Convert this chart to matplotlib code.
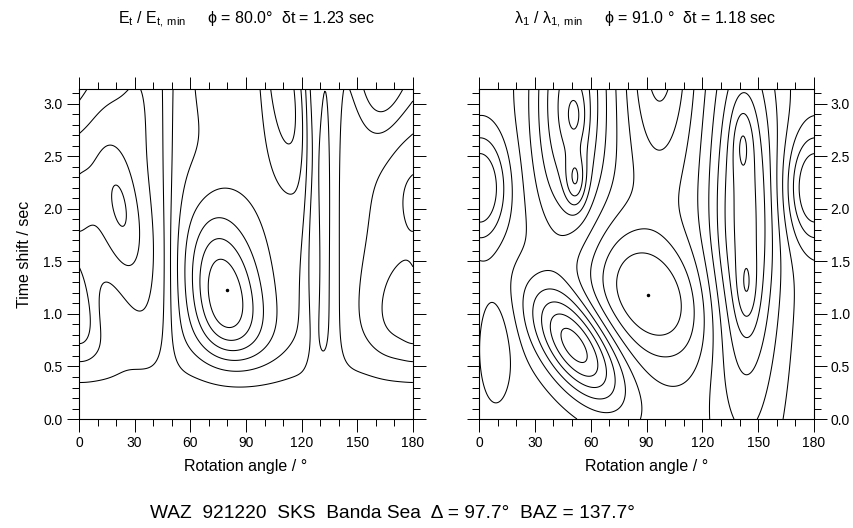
import numpy as np
import matplotlib
matplotlib.use('Agg')
import matplotlib.pyplot as plt
from matplotlib.ticker import MultipleLocator

plt.rcParams['font.family'] = ['Liberation Sans', 'DejaVu Sans']

# --- values ---
baz = 137.7
best_left = (80.0, 1.23)    # phi, dt of E_t minimum
best_right = (91.0, 1.18)   # phi, dt of lambda_1 minimum

# E_t / E_t,min : surface features (phi, dt, width phi, width dt, tilt, weight)
et_phi = [90.0, 47.7, 137.7, 72.0, 25.0, 0.0, 38.0, 168.0, 18.0, 161.0, 0.0,
          68.0, 112.0, 127.0, 2.0]
et_dt = [3.60, 1.60, 1.60, 1.23, 1.95, 2.15, 3.20, 1.00, 0.95, 3.60, 3.70,
         3.50, 3.20, 2.40, 0.90]
et_wphi = [500.0, 8.0, 8.0, 17.0, 9.0, 8.0, 10.0, 13.0, 9.0, 9.0, 10.0,
           9.0, 12.0, 3.5, 5.0]
et_wdt = [0.60, 3.00, 3.00, 0.55, 0.45, 0.30, 0.60, 0.38, 0.35, 0.50, 0.60,
          0.45, 0.80, 1.50, 0.30]
et_tilt = [0.0, 0.0, 0.0, -0.35, -0.5, 0.0, 0.0, 0.0, -0.5, 0.0, 0.0,
           0.0, -0.6, 0.0, 0.0]
et_weight = [-1.0, 1.8, 1.8, 5.4, 2.4, 0.6, 1.2, 1.0, -1.3, -5.5, -1.5,
             1.6, 3.6, -3.5, 0.6]
et_bg = 2.2
et_null = 8.0
et_levels = [1.5, 2.5, 3.5, 4.5, 5.5, 6.5, 7.5, 8.5]

# lambda_1 / lambda_1,min : highs and lows (same columns, signed height)
l1_phi = [91.0, 52.0, 48.0, 52.0, 52.0, 143.0, 141.5, 143.7, 0.0, 180.0, 9.0, 97.0]
l1_dt = [1.18, 0.69, 3.00, 2.26, 2.88, 1.90, 2.65, 1.22, 2.20, 2.20, 0.68, 3.50]
l1_wphi = [22.0, 17.0, 14.0, 4.0, 4.0, 13.0, 4.0, 4.0, 10.0, 10.0, 7.0, 12.0]
l1_wdt = [0.45, 0.38, 0.90, 0.18, 0.18, 1.30, 0.25, 0.25, 0.35, 0.35, 0.40, 0.80]
l1_tilt = [-0.3, -0.6, 0.0, 0.0, 0.0, 0.0, 0.0, 0.0, 0.0, 0.0, 0.0, 0.0]
l1_height = [-1.8, 3.0, 2.4, 1.2, 0.6, 2.5, 0.7, 0.65, -1.0, -1.0, -0.6, -1.5]
l1_base = 2.75
l1_levels = [1.5, 2.0, 2.5, 3.0, 3.5, 4.0, 4.5, 5.0, 5.5]


def bump(P, T, pc, tc, sp, st, rho):
    dp = ((P - pc + 90.0) % 180.0) - 90.0
    a = dp / sp
    b = (T - tc) / st
    q = (a * a - 2 * rho * a * b + b * b) / (1 - rho * rho)
    return np.exp(-0.5 * q)


phi = np.linspace(0, 180, 361)
dt = np.linspace(0, np.pi, 316)
P, T = np.meshgrid(phi, dt)

# transverse energy: equal to the uncorrected value along the null directions and at dt = 0
k = np.full_like(P, et_bg)
for i in range(len(et_phi)):
    k += et_weight[i] * bump(P, T, et_phi[i], et_dt[i], et_wphi[i], et_wdt[i], et_tilt[i])
s = np.abs(np.sin(np.radians(2 * (P - (baz - 90.0))))) ** 0.88
t = 1 - np.exp(-(T / 0.6) ** 2.7)
E = et_null - s * t * k

L = np.full_like(P, l1_base)
for i in range(len(l1_phi)):
    L += l1_height[i] * bump(P, T, l1_phi[i], l1_dt[i], l1_wphi[i], l1_wdt[i], l1_tilt[i])

fig = plt.figure(figsize=(8.54, 5.28), dpi=100)
ax1 = fig.add_axes([0.0925, 0.2064, 0.391, 0.625])
ax2 = fig.add_axes([0.5609, 0.2064, 0.3923, 0.625])

ax1.contour(P, T, E, levels=et_levels, colors='black', linewidths=0.75)
ax1.plot(*best_left, 'k.', ms=3)
ax2.contour(P, T, L, levels=l1_levels, colors='black', linewidths=0.75)
ax2.plot(*best_right, 'k.', ms=3)

for ax in (ax1, ax2):
    ax.set_xlim(0, 180)
    ax.set_ylim(0, np.pi)
    ax.xaxis.set_major_locator(MultipleLocator(30))
    ax.xaxis.set_minor_locator(MultipleLocator(10))
    ax.yaxis.set_major_locator(MultipleLocator(0.5))
    ax.yaxis.set_minor_locator(MultipleLocator(0.1))
    ax.yaxis.set_major_formatter(plt.FormatStrFormatter('%.1f'))
    ax.tick_params(which='both', direction='out', top=True, right=True,
                   labelsize=10, width=0.7)
    ax.tick_params(which='major', length=9, pad=3)
    ax.tick_params(which='minor', length=5)
    for sp in ax.spines.values():
        sp.set_linewidth(0.8)
    ax.set_xlabel('Rotation angle / \u00b0', fontsize=11.5, labelpad=7)

ax1.set_ylabel('Time shift / sec', fontsize=11.5, labelpad=8)
ax2.yaxis.tick_right()
ax2.tick_params(which='both', left=True)

fig.text(0.288, 0.963, r'$\mathregular{E_t}$ / $\mathregular{E_{t,\,min}}$' +
         '     \u03d5 = 80.0\u00b0  \u03b4t = 1.23 sec',
         ha='center', va='center', fontsize=11.5)
fig.text(0.755, 0.963, r'$\mathregular{\lambda_1}$ / $\mathregular{\lambda_{1,\,min}}$' +
         '     \u03d5 = 91.0 \u00b0  \u03b4t = 1.18 sec',
         ha='center', va='center', fontsize=11.5)
fig.text(0.176, 0.027, 'WAZ  921220  SKS  Banda Sea  \u0394 = 97.7\u00b0  BAZ = 137.7\u00b0',
         ha='left', va='center', fontsize=13.8)

fig.savefig('out.png', dpi=100)
